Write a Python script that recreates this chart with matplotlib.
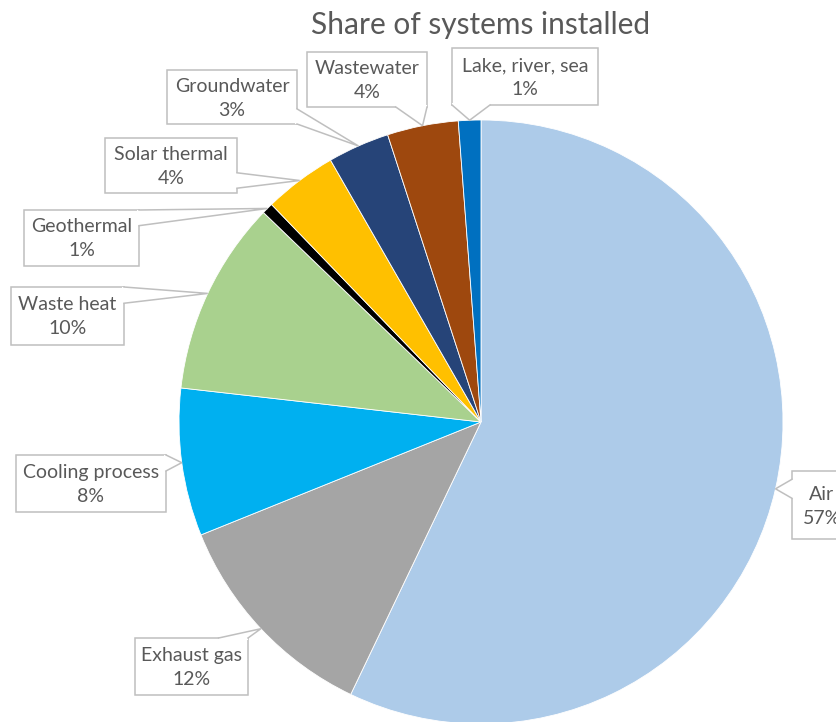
import numpy as np
import matplotlib

matplotlib.use("Agg")
import matplotlib.pyplot as plt
from matplotlib.patches import Rectangle, Polygon

# share of installed systems by heat source (clockwise from 12 o'clock)
sources = ["Air", "Exhaust gas", "Cooling process", "Waste heat", "Geothermal",
           "Solar thermal", "Groundwater", "Wastewater", "Lake, river, sea"]
shares = [57.1, 11.8, 7.9, 10.4, 0.6, 3.9, 3.3, 3.8, 1.2]
colors = ["#ADCBE9", "#A5A5A5", "#00B0F0", "#A9D18E", "#000000",
          "#FFC000", "#264478", "#9E480E", "#0070C0"]

W, H = 837, 722
CX, CY, R = 481, 422, 302  # pie centre / radius in pixels, y measured from top
GREY_TXT = "#595959"
GREY_BOX = "#BFBFBF"

# label boxes (x0, y0, x1, y1 in pixels from top-left) and the side the pointer leaves from
boxes = {
    "Air": (792, 471, 852, 539, "left"),
    "Exhaust gas": (135, 638, 248, 695, "top"),
    "Cooling process": (16, 455, 166, 512, "right"),
    "Waste heat": (11, 287, 124, 345, "right"),
    "Geothermal": (24, 210, 139, 266, "right"),
    "Solar thermal": (105, 138, 237, 193, "right"),
    "Groundwater": (167, 70, 297, 124, "right"),
    "Wastewater": (307, 52, 427, 107, "bottom"),
    "Lake, river, sea": (452, 48, 598, 105, "bottom"),
}


def up(x, y):
    return x, H - y


fig = plt.figure(figsize=(W / 100, H / 100), dpi=100)
ax = fig.add_axes([0, 0, 1, 1])
wedges, _ = ax.pie(shares, colors=colors, startangle=90, counterclock=False,
                   center=up(CX, CY), radius=R, frame=True,
                   wedgeprops={"edgecolor": "white", "linewidth": 0.6})
ax.set_xlim(0, W)
ax.set_ylim(0, H)
ax.set_aspect("equal", adjustable="box")
ax.axis("off")

for name, share, w in zip(sources, shares, wedges):
    mid = np.deg2rad((w.theta1 + w.theta2) / 2)
    tx, ty = CX + R * np.cos(mid), CY - R * np.sin(mid)
    x0, y0, x1, y1, side = boxes[name]

    # pointer base: a quarter of the side, centred on the tip where possible
    if side in ("left", "right"):
        hw = (y1 - y0) * 0.14
        c = min(max(ty, y0 + hw), y1 - hw)
        ex, sgn = (x0, 1) if side == "left" else (x1, -1)
        base = [(ex + 2 * sgn, c - hw), (ex, c - hw), (tx, ty), (ex, c + hw), (ex + 2 * sgn, c + hw)]
    else:
        hw = (x1 - x0) * 0.13
        c = min(max(tx, x0 + hw), x1 - hw)
        ey, sgn = (y0, 1) if side == "top" else (y1, -1)
        base = [(c - hw, ey + 2 * sgn), (c - hw, ey), (tx, ty), (c + hw, ey), (c + hw, ey + 2 * sgn)]

    ax.add_patch(Rectangle(up(x0, y1), x1 - x0, y1 - y0, facecolor="white",
                           edgecolor=GREY_BOX, linewidth=1.1, zorder=3))
    pts = [up(*p) for p in base]
    ax.add_patch(Polygon(pts, closed=True, facecolor="white", edgecolor="none", zorder=4))
    ax.plot([p[0] for p in pts[1:4]], [p[1] for p in pts[1:4]],
            color=GREY_BOX, linewidth=1.1, zorder=5, solid_joinstyle="miter")
    ax.text(*up((x0 + x1) / 2, (y0 + y1) / 2 + 1), f"{name}\n{share:.0f}%",
            ha="center", va="center", fontsize=14, family="Lato",
            color=GREY_TXT, linespacing=1.5, zorder=6)

fig.text(CX / W, 1 - 25 / H, "Share of systems installed", ha="center", va="center",
         fontsize=21.5, family="Lato", color=GREY_TXT)

fig.savefig("out.png", dpi=100)
